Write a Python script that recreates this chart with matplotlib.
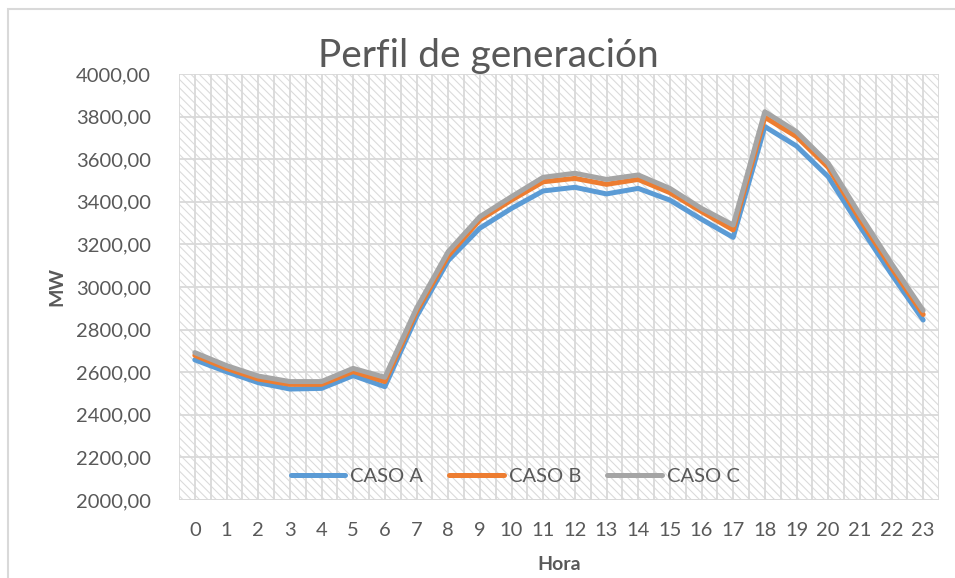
import matplotlib
matplotlib.use("Agg")
import matplotlib.pyplot as plt
from matplotlib.patches import Rectangle
import numpy as np

plt.rcParams['font.family'] = ['Lato', 'DejaVu Sans']
plt.rcParams['hatch.linewidth'] = 0.75
plt.rcParams['hatch.color'] = '#DADADA'

horas = list(range(24))
hour_labels = [str(h) for h in horas]
caso_a = [2658, 2602, 2551, 2521, 2524, 2584, 2532, 2861, 3124, 3276, 3369, 3451,
          3468, 3437, 3463, 3408, 3318, 3233, 3753, 3662, 3518, 3285, 3060, 2845]
caso_b = [2679, 2618, 2568, 2543, 2543, 2603, 2556, 2884, 3146, 3315, 3408, 3494,
          3510, 3482, 3505, 3443, 3354, 3268, 3797, 3706, 3562, 3318, 3090, 2871]
caso_c = [2692, 2631, 2582, 2556, 2556, 2618, 2576, 2900, 3166, 3330, 3424, 3515,
          3534, 3505, 3526, 3463, 3369, 3291, 3823, 3729, 3581, 3340, 3110, 2890]
series_names = ['CASO A', 'CASO B', 'CASO C']
series_colors = ['#5B9BD5', '#ED7D31', '#A5A5A5']
y_ticks = [2000, 2200, 2400, 2600, 2800, 3000, 3200, 3400, 3600, 3800, 4000]

W, H = 955, 578
fig = plt.figure(figsize=(W / 100, H / 100), dpi=100)
fig.patch.set_facecolor('white')

# outer chart border
fig.add_artist(Rectangle((8 / W, -0.1), 1.2, 1 - 9 / H + 0.1, transform=fig.transFigure,
                         fill=False, edgecolor='#D9D9D9', linewidth=1.5))

ax = fig.add_axes([179 / W, 1 - 500 / H, (939 - 179) / W, (500 - 74) / H])
ax.set_xlim(-0.5, 23.5)
ax.set_ylim(2000, 4000)

# hatched background
ax.add_patch(Rectangle((0, 0), 1, 1, transform=ax.transAxes, facecolor='white',
                       edgecolor='#DADADA', hatch='\\' * 4, linewidth=0, zorder=0))

# grid
for v in y_ticks:
    ax.axhline(v, color='#D9D9D9', linewidth=1.3, zorder=1)
for xv in np.arange(-0.5, 24, 0.5):
    ax.axvline(xv, color='#D9D9D9', linewidth=1.3, zorder=1)

for spine in ax.spines.values():
    spine.set_visible(False)
ax.axhline(2000, color='#D9D9D9', linewidth=1.8, zorder=2)

for vals, name, col in zip([caso_a, caso_b, caso_c], series_names, series_colors):
    ax.plot(horas, vals, color=col, linewidth=3.6, label=name, zorder=3,
            solid_joinstyle='round', solid_capstyle='round')

ax.set_xticks(horas)
ax.set_xticklabels(hour_labels)
ax.set_yticks(y_ticks)
ax.set_yticklabels([f"{v:.2f}".replace('.', ',') for v in y_ticks])
ax.tick_params(axis='both', length=0, labelsize=14.5, labelcolor='#595959')
ax.tick_params(axis='x', pad=16)
ax.tick_params(axis='y', pad=20)

ax.set_xlabel('Hora', fontsize=14, fontweight='bold', color='#595959', labelpad=12)
ax.set_ylabel('MW', fontsize=14, fontweight='bold', color='#595959', labelpad=8)

fig.text(488 / W, 1 - 56 / H, 'Perfil de generación', fontsize=28, color='#595959',
         ha='center', va='center')

leg = ax.legend(loc='center', bbox_to_anchor=((515 - 179) / 760, (500 - 476) / 426),
                ncol=3, frameon=False, fontsize=14.5, handlelength=2.7,
                columnspacing=1.3, handletextpad=0.25)
for t in leg.get_texts():
    t.set_color('#595959')

fig.savefig('out.png', dpi=100, facecolor='white')
